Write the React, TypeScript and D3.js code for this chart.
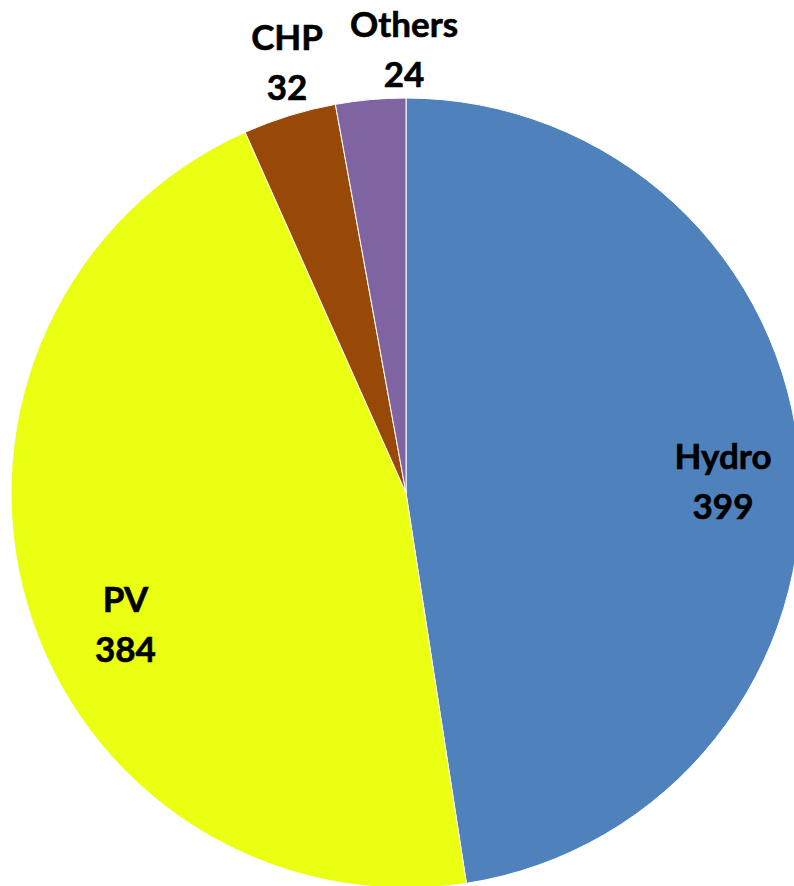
import React from 'react';
import * as d3 from 'd3';

const categories = ['Hydro', 'PV', 'CHP', 'Others'];
const values = [399, 384, 32, 24];
const colors = ['#4F81BD', '#EBFF12', '#984807', '#8064A2'];

// label placement per slice: radius fraction and angle shift (degrees), like Excel's best-fit
const labelRadius = [0.803, 0.785, 1.129, 1.122];
const labelShift = [2.4, -8.8, 1.7, 4.9];

const width = 794;
const height = 886;

export default function App() {
  const cx = 406;
  const cy = 493;
  const radius = 395;

  const data = categories.map((c, i) => ({
    name: c, value: values[i], color: colors[i], lr: labelRadius[i], ls: labelShift[i]
  }));
  const pie = d3.pie<any>().value(d => d.value).sort(null);
  const arcs = pie(data);
  const arc = d3.arc<any>().innerRadius(0).outerRadius(radius);

  return (
    <svg width={width} height={height} style={{ position: 'absolute', left: 0, top: 0 }}>
      <g transform={`translate(${cx},${cy})`}>
        {arcs.map((a, i) => (
          <path key={i} d={arc(a) || ''} fill={a.data.color} stroke="#ffffff" strokeWidth={1} />
        ))}
        {arcs.map((a, i) => {
          const mid = (a.startAngle + a.endAngle) / 2 + (a.data.ls * Math.PI) / 180;
          const r = radius * a.data.lr;
          const x = Math.sin(mid) * r;
          const y = -Math.cos(mid) * r;
          return (
            <text key={i} textAnchor="middle" fontFamily="Lato, 'Open Sans', sans-serif"
                  fontWeight="bold" fontSize={35} fill="#000" stroke="#000" strokeWidth={0.6}>
              <tspan x={x} y={y - 13}>{a.data.name}</tspan>
              <tspan x={x} y={y + 37}>{a.data.value}</tspan>
            </text>
          );
        })}
      </g>
    </svg>
  );
}
